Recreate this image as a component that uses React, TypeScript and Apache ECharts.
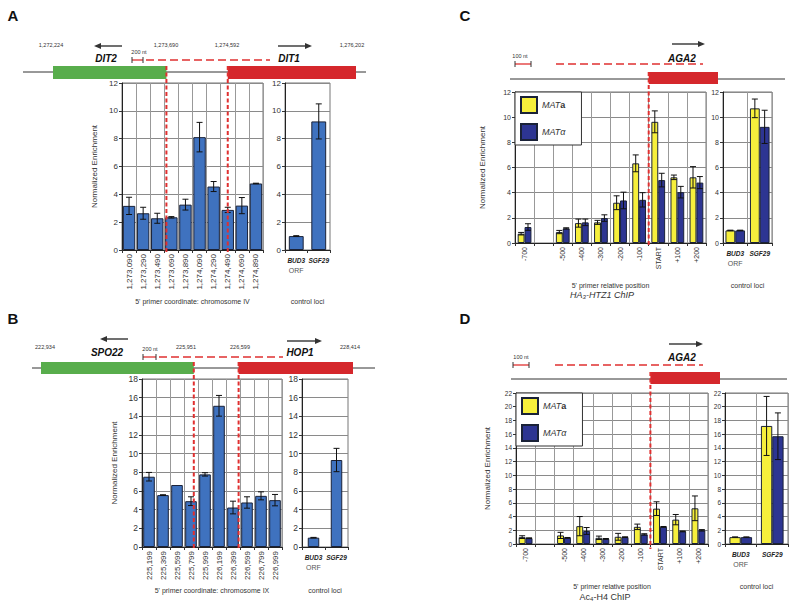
import React, { useEffect, useRef } from 'react';
import * as echarts from 'echarts';

const FONT = 'Liberation Sans, Arial, Helvetica, sans-serif';

// ---------- Panel A (DIT2/DIT1, chromosome IV) ----------
const catsA = ['1,273,090', '1,273,290', '1,273,490', '1,273,690', '1,273,890', '1,274,090', '1,274,290', '1,274,490', '1,274,690', '1,274,890'];
const valsA = [3.17, 2.64, 2.28, 2.35, 3.26, 8.11, 4.56, 2.88, 3.19, 4.78];
const errsA = [0.62, 0.43, 0.36, 0.05, 0.39, 1.06, 0.36, 0.19, 0.58, 0.02];
const ctrlCats = ['BUD3', 'SGF29'];
const ctrlA = [1.0, 9.24];
const ctrlErrA = [0.03, 1.26];

// ---------- Panel B (SPO22/HOP1, chromosome IX) ----------
const catsB = ['225,199', '225,399', '225,599', '225,799', '225,999', '226,199', '226,399', '226,599', '226,799', '226,999'];
const valsB = [7.53, 5.56, 6.64, 4.91, 7.78, 15.13, 4.23, 4.77, 5.48, 5.02];
const errsB = [0.46, 0.04, 0, 0.47, 0.18, 1.11, 0.68, 0.61, 0.43, 0.61];
const ctrlB = [1.0, 9.32];
const ctrlErrB = [0.03, 1.25];

// ---------- Panels C, D (AGA2) ----------
const catsCD = ['-700', '', '-500', '-400', '-300', '-200', '-100', 'START', '+100', '+200'];
const cMATa = [0.74, null, 0.87, 1.58, 1.64, 3.2, 6.33, 9.63, 5.22, 5.22];
const cMATaErr = [0.1, null, 0.13, 0.32, 0.16, 0.55, 0.67, 0.87, 0.18, 0.85];
const cMATalpha = [1.27, null, 1.16, 1.64, 1.98, 3.38, 3.43, 5.0, 4.04, 4.8];
const cMATalphaErr = [0.26, null, 0.05, 0.26, 0.26, 0.66, 0.57, 0.54, 0.46, 0.48];
const cCtrlA = [1.0, 10.7];
const cCtrlAErr = [0.02, 0.74];
const cCtrlAlpha = [1.0, 9.23];
const cCtrlAlphaErr = [0.02, 1.32];

const dMATa = [1.0, null, 1.25, 2.6, 0.9, 1.05, 2.5, 5.15, 3.55, 5.2];
const dMATaErr = [0.2, null, 0.45, 1.4, 0.25, 0.5, 0.4, 1.0, 0.75, 1.8];
const dMATalpha = [0.85, null, 0.9, 1.9, 0.75, 1.0, 1.4, 2.5, 1.85, 2.0];
const dMATalphaErr = [0.05, null, 0.05, 0.5, 0.05, 0.05, 0.1, 0.05, 0.05, 0.1];
const dCtrlA = [1.0, 17.2];
const dCtrlAErr = [0.03, 4.3];
const dCtrlAlpha = [1.0, 15.7];
const dCtrlAlphaErr = [0.03, 3.4];

const BLUE_A = '#3f72bf';
const YELLOW = '#f6ef3c';
const NAVY = '#2d3592';
const EDGE = '#1a2238';
const GREEN_GENE = '#58ad4c';
const RED_GENE = '#d5272c';
const RED_DASH = '#e03030';

const G = [
  { left: 122, top: 83, width: 141, height: 167 }, // A main
  { left: 285, top: 83, width: 45, height: 167 }, // A ctrl
  { left: 142, top: 379, width: 140, height: 168 }, // B main
  { left: 302, top: 379, width: 46, height: 168 }, // B ctrl
  { left: 515, top: 92, width: 191, height: 151 }, // C main
  { left: 723, top: 92, width: 49, height: 151 }, // C ctrl
  { left: 516, top: 393, width: 192, height: 151 }, // D main
  { left: 725, top: 393, width: 63, height: 151 }, // D ctrl
];

function errSeries(name: string, ai: number, vals: (number | null)[], errs: (number | null)[], offset: number) {
  const data = vals
    .map((v, i) => (v == null || !errs[i] ? null : [i, v, errs[i] as number]))
    .filter((d) => d !== null);
  return {
    type: 'custom',
    name,
    xAxisIndex: ai,
    yAxisIndex: ai,
    z: 5,
    silent: true,
    encode: { x: 0, y: 1 },
    data,
    renderItem: (_p: any, api: any) => {
      const i = api.value(0);
      const v = api.value(1);
      const e = api.value(2);
      const bw = api.size([1, 0])[0];
      const t = api.coord([i, v + e]);
      const b = api.coord([i, v - e]);
      const x = t[0] + bw * offset;
      const c = 3;
      const st = { stroke: '#111', lineWidth: 1 };
      return {
        type: 'group',
        children: [
          { type: 'line', shape: { x1: x, y1: t[1], x2: x, y2: b[1] }, style: st },
          { type: 'line', shape: { x1: x - c, y1: t[1], x2: x + c, y2: t[1] }, style: st },
          { type: 'line', shape: { x1: x - c, y1: b[1], x2: x + c, y2: b[1] }, style: st },
        ],
      };
    },
  };
}

function barSeries(name: string, ai: number, vals: (number | null)[], color: string, extra: any = {}) {
  return {
    type: 'bar',
    name,
    xAxisIndex: ai,
    yAxisIndex: ai,
    data: vals.map((v) => (v == null ? '-' : v)),
    itemStyle: { color, borderColor: EDGE, borderWidth: 1 },
    silent: true,
    ...extra,
  };
}

function xAxisCat(ai: number, data: string[], fs: number, name: string, nameGap: number, splitV: boolean) {
  return {
    type: 'category',
    gridIndex: ai,
    data,
    boundaryGap: true,
    name,
    nameLocation: 'middle',
    nameGap,
    nameTextStyle: { fontSize: 7, color: '#333', fontFamily: FONT },
    axisLine: { lineStyle: { color: '#222', width: 1 } },
    axisTick: { show: true, length: 3, alignWithLabel: false, lineStyle: { color: '#333' } },
    splitLine: { show: splitV, interval: 0, lineStyle: { color: '#999', width: 1 } },
    axisLabel: { rotate: 90, interval: 0, fontSize: fs, color: '#333', fontFamily: FONT, margin: 4 },
  };
}

function xAxisCtrl(ai: number, name: string, nameGap: number, splitV: boolean) {
  return {
    type: 'category',
    gridIndex: ai,
    data: ctrlCats,
    boundaryGap: true,
    name,
    nameLocation: 'middle',
    nameGap,
    nameTextStyle: { fontSize: 7, color: '#333', fontFamily: FONT },
    axisLine: { lineStyle: { color: '#222', width: 1 } },
    axisTick: { show: true, length: 3, alignWithLabel: false, lineStyle: { color: '#333' } },
    splitLine: { show: splitV, interval: 0, lineStyle: { color: '#999', width: 1 } },
    axisLabel: {
      interval: 0,
      margin: 5,
      formatter: (v: string) => (v === 'BUD3' ? '{b|BUD3}\n{n|ORF}' : '{b|SGF29}'),
      rich: {
        b: { fontStyle: 'italic', fontWeight: 'bold', fontSize: 6.5, color: '#222', fontFamily: FONT, lineHeight: 10, align: 'center' },
        n: { fontSize: 7, color: '#555', fontFamily: FONT, lineHeight: 10, align: 'center' },
      },
    },
  };
}

function yAxisVal(ai: number, max: number, fs: number, name: string, nameGap: number) {
  return {
    type: 'value',
    gridIndex: ai,
    min: 0,
    max,
    interval: 2,
    name,
    nameLocation: 'middle',
    nameGap,
    nameTextStyle: { fontSize: 8, color: '#333', fontFamily: FONT },
    axisLine: { show: true, lineStyle: { color: '#222', width: 1 } },
    axisTick: { show: true, length: 3, lineStyle: { color: '#333' } },
    splitLine: { show: true, lineStyle: { color: '#8a8a8a', width: 1 } },
    axisLabel: { fontSize: fs, color: '#333', fontFamily: FONT, margin: 4 },
  };
}

function txt(text: string, x: number, y: number, font: string, fill = '#333', align = 'center') {
  return { type: 'text', z: 100, x, y, style: { text, font, fill, textAlign: align, textVerticalAlign: 'middle' } };
}
function ln(x1: number, y1: number, x2: number, y2: number, stroke: string, lineWidth = 1, lineDash?: number[], z = 100) {
  return { type: 'line', z, shape: { x1, y1, x2, y2 }, style: { stroke, lineWidth, lineDash } };
}
function arrow(xTail: number, xHead: number, y: number) {
  const dir = xHead > xTail ? 1 : -1;
  return [
    ln(xTail, y, xHead - dir * 5, y, '#333', 1.4),
    { type: 'polygon', z: 100, shape: { points: [[xHead, y], [xHead - dir * 7, y - 3], [xHead - dir * 7, y + 3]] }, style: { fill: '#333' } },
  ];
}
function scaleBar(x1: number, x2: number, y: number) {
  return [ln(x1, y, x2, y, RED_DASH, 1.3), ln(x1, y - 3, x1, y + 3, '#333', 1), ln(x2, y - 3, x2, y + 3, '#333', 1)];
}
function rect(x: number, y: number, w: number, h: number, fill: string) {
  return { type: 'rect', z: 99, shape: { x, y, width: w, height: h }, style: { fill } };
}

export default function App() {
  const ref = useRef<HTMLDivElement>(null);
  useEffect(() => {
    if (!ref.current) return;
    const chart = echarts.init(ref.current, undefined, { renderer: 'svg' });

    const vA1 = G[0].left + (G[0].width * 3.15) / 10;
    const vA2 = G[0].left + (G[0].width * 7.5) / 10;
    const vB1 = G[2].left + (G[2].width * 3.7) / 10;
    const vB2 = G[2].left + (G[2].width * 6.9) / 10;
    const vC = G[4].left + (G[4].width * 7) / 10;
    const vD = G[6].left + (G[6].width * 7) / 10;
    const dash = [4, 2.5];
    const small = `5.5px ${FONT}`;
    const geneFont = `italic bold 10px ${FONT}`;
    const letter = `bold 15px ${FONT}`;

    const graphic: any[] = [
      // Panel A
      txt('A', 13, 15, letter, '#111'),
      ln(23, 72, 366, 72, '#333', 1, undefined, 90),
      rect(53, 66, vA1 - 53, 13, GREEN_GENE),
      rect(vA2, 66, 356 - vA2, 13, RED_GENE),
      txt('1,272,224', 51, 45, small),
      txt('1,273,690', 166, 45, small),
      txt('1,274,592', 227, 45, small),
      txt('1,276,202', 352, 45, small),
      ...arrow(122, 94, 46),
      ...arrow(278, 312, 46),
      txt('DIT2', 106, 58, geneFont, '#111'),
      txt('DIT1', 289, 58, geneFont, '#111'),
      txt('200 nt', 139, 52, small),
      ...scaleBar(132, 143, 60),
      ln(146, 60, 270, 60, RED_DASH, 1.3, [8, 4]),
      ln(vA1, 66, vA1, 252, RED_DASH, 2, dash),
      ln(vA2, 66, vA2, 252, RED_DASH, 2, dash),

      // Panel B
      txt('B', 13, 318, letter, '#111'),
      ln(32, 368, 375, 368, '#333', 1, undefined, 90),
      rect(41, 362, vB1 - 41, 12, GREEN_GENE),
      rect(vB2, 362, 353 - vB2, 12, RED_GENE),
      txt('222,934', 45, 347, small),
      txt('225,951', 186, 347, small),
      txt('226,599', 240, 347, small),
      txt('228,414', 350, 347, small),
      ...arrow(128, 100, 339),
      ...arrow(287, 322, 341),
      txt('SPO22', 107, 352, geneFont, '#111'),
      txt('HOP1', 300, 352, geneFont, '#111'),
      txt('200 nt', 150, 349, small),
      ...scaleBar(143, 156, 357),
      ln(159, 357, 283, 357, RED_DASH, 1.3, [8, 4]),
      ln(vB1, 362, vB1, 549, RED_DASH, 2, dash),
      ln(vB2, 362, vB2, 549, RED_DASH, 2, dash),

      // Panel C
      txt('C', 465, 15, letter, '#111'),
      ...arrow(672, 705, 44),
      txt('AGA2', 682, 58, geneFont, '#111'),
      txt('100 nt', 520, 56, small),
      ...scaleBar(515, 531, 64),
      ln(556, 64, 703, 64, RED_DASH, 1.3, [8, 4]),
      ln(510, 79, 785, 79, '#333', 1, undefined, 90),
      rect(vC, 72, 718 - vC, 12, RED_GENE),
      ln(vC, 72, vC, 247, RED_DASH, 2, dash),
      {
        type: 'text', z: 100, x: 602, y: 295,
        style: {
          text: '{c|HA}{s|3}{c|-HTZ1 ChIP}', textAlign: 'center', textVerticalAlign: 'middle',
          rich: {
            c: { font: `italic 9px ${FONT}`, fill: '#333' },
            s: { font: `italic 6px ${FONT}`, fill: '#333', padding: [4, 0, 0, 0] },
          },
        },
      },

      // Panel D
      txt('D', 465, 318, letter, '#111'),
      ...arrow(669, 703, 344),
      txt('AGA2', 682, 357, geneFont, '#111'),
      txt('100 nt', 521, 357, small),
      ...scaleBar(513, 529, 365),
      ln(555, 365, 703, 365, RED_DASH, 1.3, [8, 4]),
      ln(511, 379, 787, 379, '#333', 1, undefined, 90),
      rect(vD, 372, 720 - vD, 12, RED_GENE),
      ln(vD, 372, vD, 549, RED_DASH, 2, dash),
      {
        type: 'text', z: 100, x: 605, y: 597,
        style: {
          text: '{c|Ac}{s|4}{c|-H4 ChIP}', textAlign: 'center', textVerticalAlign: 'middle',
          rich: {
            c: { font: `9px ${FONT}`, fill: '#333' },
            s: { font: `6px ${FONT}`, fill: '#333', padding: [4, 0, 0, 0] },
          },
        },
      },
    ];

    const legendBase = {
      orient: 'vertical',
      selectedMode: false,
      icon: 'rect',
      itemWidth: 16,
      itemHeight: 16,
      itemGap: 9,
      padding: [4, 16, 4, 5],
      borderColor: '#333',
      borderWidth: 1,
      backgroundColor: '#fff',
      data: ['MATa', 'MATα'],
      formatter: (n: string) => (n === 'MATa' ? '{i|MAT}{b|a}' : '{i|MATα}'),
      textStyle: {
        rich: {
          i: { fontStyle: 'italic', fontSize: 9, color: '#333', fontFamily: FONT },
          b: { fontWeight: 'bold', fontSize: 9, color: '#333', fontFamily: FONT },
        },
      },
      z: 10,
    };

    const grpMain = { barWidth: '36%', barGap: '0%' };

    chart.setOption({
      animation: false,
      backgroundColor: '#fff',
      textStyle: { fontFamily: FONT },
      grid: G.map((g) => ({ ...g, show: true, borderColor: '#777', borderWidth: 1, containLabel: false })),
      legend: [
        { ...legendBase, left: G[4].left, top: G[4].top },
        { ...legendBase, left: G[6].left, top: G[6].top },
      ],
      xAxis: [
        xAxisCat(0, catsA, 8, "5' primer coordinate: chromosome IV", 48, true),
        xAxisCtrl(1, 'control loci', 48, false),
        xAxisCat(2, catsB, 8, "5' primer coordinate: chromosome IX", 40, true),
        xAxisCtrl(3, 'control loci', 40, false),
        xAxisCat(4, catsCD, 7, "5' primer relative position", 39, true),
        xAxisCtrl(5, 'control loci', 39, true),
        xAxisCat(6, catsCD, 7, "5' primer relative position", 39, true),
        xAxisCtrl(7, 'control loci', 39, true),
      ],
      yAxis: [
        yAxisVal(0, 12, 8, 'Normalized Enrichment', 24),
        yAxisVal(1, 12, 8, '', 0),
        yAxisVal(2, 18, 8.5, 'Normalized Enrichment', 24),
        yAxisVal(3, 18, 8.5, '', 0),
        yAxisVal(4, 12, 7, 'Normalized Enrichment', 29),
        yAxisVal(5, 12, 7, '', 0),
        yAxisVal(6, 22, 6.5, 'Normalized Enrichment', 25),
        yAxisVal(7, 22, 6.5, '', 0),
      ],
      series: [
        barSeries('A', 0, valsA, BLUE_A, { barCategoryGap: '12%' }),
        errSeries('errA', 0, valsA, errsA, 0),
        barSeries('Actrl', 1, ctrlA, BLUE_A, { barCategoryGap: '34%' }),
        errSeries('errActrl', 1, ctrlA, ctrlErrA, 0),

        barSeries('B', 2, valsB, BLUE_A, { barCategoryGap: '17%' }),
        errSeries('errB', 2, valsB, errsB, 0),
        barSeries('Bctrl', 3, ctrlB, BLUE_A, { barCategoryGap: '50%' }),
        errSeries('errBctrl', 3, ctrlB, ctrlErrB, 0),

        barSeries('MATa', 4, cMATa, YELLOW, grpMain),
        barSeries('MATα', 4, cMATalpha, NAVY, grpMain),
        errSeries('errCa', 4, cMATa, cMATaErr, -0.18),
        errSeries('errCb', 4, cMATalpha, cMATalphaErr, 0.18),
        barSeries('MATa', 5, cCtrlA, YELLOW, { barWidth: '40%', barGap: '0%' }),
        barSeries('MATα', 5, cCtrlAlpha, NAVY, { barWidth: '40%', barGap: '0%' }),
        errSeries('errCca', 5, cCtrlA, cCtrlAErr, -0.2),
        errSeries('errCcb', 5, cCtrlAlpha, cCtrlAlphaErr, 0.2),

        barSeries('MATa', 6, dMATa, YELLOW, grpMain),
        barSeries('MATα', 6, dMATalpha, NAVY, grpMain),
        errSeries('errDa', 6, dMATa, dMATaErr, -0.18),
        errSeries('errDb', 6, dMATalpha, dMATalphaErr, 0.18),
        barSeries('MATa', 7, dCtrlA, YELLOW, { barWidth: '36%', barGap: '0%' }),
        barSeries('MATα', 7, dCtrlAlpha, NAVY, { barWidth: '36%', barGap: '0%' }),
        errSeries('errDca', 7, dCtrlA, dCtrlAErr, -0.18),
        errSeries('errDcb', 7, dCtrlAlpha, dCtrlAlphaErr, 0.18),
      ],
      graphic,
    });

    return () => chart.dispose();
  }, []);

  return (
    <div
      ref={ref}
      style={{ position: 'absolute', left: 0, top: 0, width: 800, height: 606, background: '#fff' }}
    />
  );
}
